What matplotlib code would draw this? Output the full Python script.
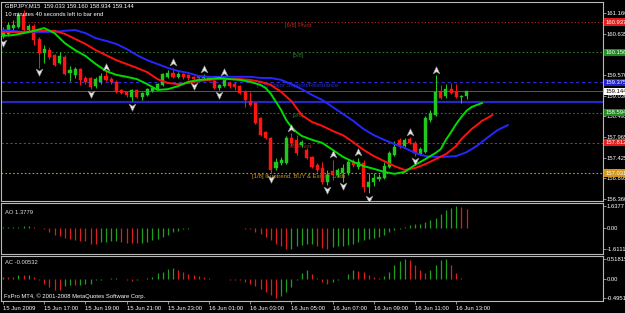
import matplotlib
matplotlib.use('Agg')
import matplotlib.pyplot as plt
from matplotlib.path import Path
import numpy as np

plt.rcParams['font.family'] = ['Liberation Sans', 'DejaVu Sans']

# ---- GBPJPY M15 candles (bar 0 = 15 Jun 15:00) ----
opens = [160.58, 160.63, 160.78, 160.81, 161.12, 160.73, 160.83, 160.50, 160.14, 160.21,
         160.08, 159.88, 160.03, 159.62, 159.57, 159.72, 159.49, 159.49, 159.28, 159.39,
         159.54, 159.46, 159.39, 159.18, 159.13, 159.00, 159.18, 159.00, 159.05, 159.15,
         159.20, 159.31, 159.52, 159.62, 159.52, 159.59, 159.57, 159.52, 159.54, 159.49,
         159.52, 159.41, 159.23, 159.28, 159.36, 159.33, 159.28, 159.13, 158.89, 158.84,
         158.45, 158.09, 157.94, 157.16, 157.29, 157.29, 157.94, 157.89, 157.76, 157.63,
         157.45, 157.24, 157.16, 156.80, 157.08, 156.98, 157.03, 157.03, 157.32, 157.19,
         157.29, 156.67, 156.80, 156.88, 156.90, 157.19, 157.50, 157.89, 157.73, 157.91,
         157.81, 157.52, 157.57, 158.40, 158.53, 159.15, 159.02, 159.20, 159.13, 159.00,
         159.033]
highs = [160.81, 160.94, 160.99, 161.17, 161.25, 160.89, 160.89, 160.55, 160.34, 160.29,
         160.11, 160.16, 160.08, 159.80, 159.77, 159.75, 159.54, 159.52, 159.52, 159.62,
         159.67, 159.52, 159.44, 159.20, 159.15, 159.20, 159.20, 159.13, 159.23, 159.28,
         159.36, 159.62, 159.70, 159.75, 159.64, 159.62, 159.59, 159.54, 159.57, 159.59,
         159.54, 159.44, 159.33, 159.52, 159.41, 159.39, 159.31, 159.18, 159.13, 158.87,
         158.48, 158.12, 157.96, 157.42, 157.45, 157.99, 158.07, 158.02, 157.89, 157.68,
         157.47, 157.29, 157.32, 157.11, 157.37, 157.16, 157.26, 157.37, 157.40, 157.42,
         157.37, 157.03, 157.03, 157.01, 157.32, 157.60, 157.86, 157.94, 157.94, 157.96,
         157.86, 157.70, 158.51, 158.66, 159.57, 159.31, 159.33, 159.36, 159.33, 159.05,
         159.160]
lows = [160.52, 160.58, 160.68, 160.78, 160.68, 160.68, 160.34, 159.75, 159.88, 159.98,
        159.80, 159.85, 159.57, 159.41, 159.49, 159.31, 159.33, 159.20, 159.23, 159.33,
        159.41, 159.33, 159.10, 159.08, 159.00, 158.89, 158.97, 158.92, 159.02, 159.13,
        159.18, 159.28, 159.49, 159.49, 159.49, 159.46, 159.44, 159.39, 159.44, 159.46,
        159.41, 159.20, 159.18, 159.26, 159.23, 159.18, 159.08, 158.74, 158.77, 158.30,
        157.99, 157.91, 157.03, 157.11, 157.24, 157.26, 157.73, 157.50, 157.70, 157.39,
        157.16, 157.06, 156.75, 156.72, 156.85, 156.93, 156.80, 156.98, 157.19, 157.14,
        156.54, 156.51, 156.69, 156.82, 156.88, 157.16, 157.47, 157.68, 157.70, 157.78,
        157.47, 157.50, 157.55, 158.35, 158.51, 158.95, 158.97, 159.08, 158.97, 158.84,
        158.934]
closes = [160.73, 160.86, 160.86, 161.12, 160.73, 160.83, 160.47, 160.14, 160.24, 160.03,
          159.83, 160.06, 159.59, 159.70, 159.72, 159.44, 159.39, 159.26, 159.46, 159.54,
          159.44, 159.39, 159.13, 159.10, 159.05, 159.18, 159.00, 159.10, 159.20, 159.23,
          159.33, 159.59, 159.62, 159.52, 159.59, 159.52, 159.49, 159.46, 159.49, 159.54,
          159.44, 159.23, 159.31, 159.44, 159.28, 159.26, 159.10, 158.92, 158.79, 158.33,
          158.01, 157.94, 157.11, 157.32, 157.37, 157.94, 157.81, 157.55, 157.83, 157.42,
          157.19, 157.11, 156.80, 156.98, 156.98, 157.11, 157.16, 157.32, 157.24, 157.32,
          156.67, 156.80, 156.90, 156.93, 157.21, 157.55, 157.70, 157.73, 157.89, 157.81,
          157.55, 157.65, 158.45, 158.58, 159.13, 158.97, 159.20, 159.10, 159.00, 159.02,
          159.144]

# ---- Alligator lines (shifted forward past the last bar) ----
lips_idx = [0, 2, 4, 6, 8, 10, 12, 14, 16, 18, 20, 22, 24, 26, 28, 30, 32, 34, 36, 38,
            40, 42, 44, 46, 48, 50, 51, 52, 53, 54, 55, 56, 57, 58, 60, 62, 64, 66, 68,
            70, 72, 74, 76, 78, 80, 82, 84, 85, 86, 87, 88, 89, 90, 91, 92, 93]
lips_val = [160.58, 160.60, 160.65, 160.71, 160.78, 160.65, 160.39, 160.21, 160.06, 159.85,
            159.67, 159.57, 159.52, 159.46, 159.33, 159.18, 159.20, 159.28, 159.39, 159.44,
            159.46, 159.49, 159.46, 159.44, 159.39, 159.31, 159.23, 159.08, 158.87, 158.66,
            158.40, 158.22, 158.09, 157.99, 157.89, 157.81, 157.63, 157.45, 157.32, 157.21,
            157.14, 157.06, 157.01, 157.06, 157.24, 157.39, 157.55, 157.65, 157.89, 158.09,
            158.30, 158.48, 158.64, 158.74, 158.79, 158.84]
teeth_idx = [0, 4, 8, 10, 12, 14, 16, 18, 20, 22, 24, 26, 28, 30, 32, 34, 36, 38, 40, 42,
             44, 46, 48, 50, 52, 54, 56, 57, 58, 60, 62, 64, 66, 68, 70, 72, 74, 76, 78,
             80, 82, 84, 86, 88, 89, 90, 91, 92, 93, 94, 95]
teeth_val = [160.68, 160.68, 160.71, 160.71, 160.63, 160.50, 160.37, 160.21, 160.08, 159.95,
             159.85, 159.75, 159.64, 159.46, 159.36, 159.33, 159.36, 159.41, 159.44, 159.46,
             159.46, 159.46, 159.44, 159.39, 159.31, 159.13, 158.89, 158.71, 158.53, 158.35,
             158.25, 158.12, 158.01, 157.83, 157.63, 157.47, 157.34, 157.21, 157.11, 157.16,
             157.26, 157.39, 157.52, 157.73, 157.91, 158.04, 158.17, 158.27, 158.38, 158.45,
             158.53]
jaw_idx = [0, 4, 8, 10, 12, 14, 16, 18, 20, 22, 24, 26, 28, 30, 32, 34, 36, 38, 40, 42,
           44, 46, 48, 50, 52, 54, 56, 58, 60, 62, 64, 66, 68, 70, 72, 74, 76, 78, 80, 82,
           84, 86, 88, 90, 92, 94, 96, 98]
jaw_val = [160.73, 160.68, 160.68, 160.68, 160.71, 160.73, 160.65, 160.52, 160.45, 160.37,
           160.24, 160.08, 159.95, 159.85, 159.75, 159.67, 159.62, 159.54, 159.52, 159.52,
           159.52, 159.52, 159.52, 159.49, 159.49, 159.44, 159.33, 159.20, 159.05, 158.92,
           158.74, 158.56, 158.38, 158.17, 158.01, 157.89, 157.78, 157.68, 157.55, 157.47,
           157.45, 157.45, 157.47, 157.57, 157.73, 157.94, 158.14, 158.27]

# ---- fractals ----
frac_up_idx = [20, 33, 39, 43, 56, 64, 69, 79, 84]
frac_up_val = [159.77, 159.90, 159.72, 159.64, 158.20, 157.52, 157.57, 158.09, 159.70]
frac_dn_idx = [0, 7, 17, 25, 37, 42, 52, 63, 66, 71, 80]
frac_dn_val = [160.39, 159.64, 159.08, 158.74, 159.28, 159.05, 156.88, 156.59, 156.69, 156.36, 157.34]

# ---- Murrey math levels ----
murrey_levels = [160.9375, 160.15625, 159.375, 158.59375, 157.8125, 157.03125]
murrey_names = ['[6/8] Pivot', '[5/8]', '[4/8] Major Support/Resistance', '[3/8]',
                '[2/8] Pivot', '[1/8] If uptrend, BUY & Exit @ 1/8th']
murrey_tags = ['160.937', '160.156', '159.375', '158.594', '157.812', '157.031']
support_line = 158.875

# ---- oscillators ----
ao = [0.02, 0.03, 0.04, 0.06, 0.10, 0.12, 0.05, -0.03, -0.09, -0.30,
      -0.55, -0.61, -0.76, -0.85, -0.91, -1.00, -1.03, -1.21, -1.24, -1.09,
      -1.06, -1.03, -1.00, -1.09, -1.15, -1.18, -1.19, -1.15, -1.06, -0.91,
      -0.82, -0.67, -0.55, -0.36, -0.24, -0.12, -0.09, -0.06, -0.03, -0.01,
      0.01, 0.00, -0.01, -0.02, -0.03, -0.04, -0.05, -0.07, -0.12, -0.30,
      -0.45, -0.70, -0.91, -1.21, -1.36, -1.6111, -1.58, -1.40, -1.33, -1.25,
      -1.22, -1.35, -1.50, -1.58, -1.48, -1.42, -1.38, -1.30, -1.21, -1.06,
      -0.95, -0.85, -0.76, -0.67, -0.55, -0.36, -0.21, -0.09, 0.02, 0.19,
      0.28, 0.30, 0.42, 0.58, 0.74, 1.05, 1.35, 1.51, 1.6377, 1.56,
      1.3779]
ac = [0.06, 0.05, 0.04, 0.10, 0.10, 0.11, 0.06, -0.03, -0.12, -0.20,
      -0.29, -0.30, -0.19, -0.16, -0.16, -0.15, -0.14, -0.12, -0.04, -0.03,
      -0.01, 0.02, 0.03, 0.01, -0.04, -0.05, -0.03, -0.01, 0.02, 0.06,
      0.15, 0.19, 0.26, 0.28, 0.22, 0.17, 0.13, 0.11, 0.08, 0.06,
      0.03, 0.00, -0.01, -0.01, -0.02, -0.02, -0.03, -0.07, -0.12, -0.18,
      -0.25, -0.34, -0.42, -0.49514, -0.45, -0.34, -0.22, -0.02, 0.15, 0.22,
      0.13, 0.02, -0.07, -0.12, -0.07, -0.03, 0.01, 0.13, 0.22, 0.20,
      0.17, 0.11, 0.04, 0.03, 0.08, 0.18, 0.37, 0.46, 0.51815, 0.49,
      0.37, 0.22, 0.15, 0.24, 0.37, 0.50, 0.51, 0.37, 0.15, 0.02,
      -0.00532]

price_ticks = [161.160, 160.635, 160.100, 159.570, 159.030, 158.495, 157.965, 157.425, 156.895, 156.360]
time_ticks = [0, 8, 16, 24, 32, 40, 48, 56, 64, 72, 80, 88]
time_labels = ['15 Jun 2009', '15 Jun 17:00', '15 Jun 19:00', '15 Jun 21:00', '15 Jun 23:00',
               '16 Jun 01:00', '16 Jun 03:00', '16 Jun 05:00', '16 Jun 07:00', '16 Jun 09:00',
               '16 Jun 11:00', '16 Jun 13:00']

W, H = 625, 313
FS = 4.2
fig = plt.figure(figsize=(W / 100, H / 100), dpi=100, facecolor='black')


def panel(x0, y0, x1, y1):
    ax = fig.add_axes([x0 / W, 1 - y1 / H, (x1 - x0) / W, (y1 - y0) / H])
    ax.set_facecolor('black')
    for s in ax.spines.values():
        s.set_color('#b8b8b8')
        s.set_linewidth(0.8)
    ax.set_xlim(-0.39, 116.5)
    ax.yaxis.tick_right()
    ax.tick_params(axis='y', colors='#c8c8c8', labelcolor='white', labelsize=FS,
                   length=2, width=0.5, pad=0.6)
    return ax


main = panel(1, 2, 603, 201)
ao_ax = panel(1, 203, 603, 254)
ac_ax = panel(1, 256, 603, 301)

# ---- main chart ----
o, h, l, c = map(np.array, (opens, highs, lows, closes))
idx = np.arange(len(c))
bull = c >= o
cols = np.where(bull, '#20c820', '#ff1414')
main.vlines(idx, l, h, colors=cols, lw=0.75, zorder=3)
main.bar(idx, np.maximum(np.abs(c - o), 0.012), bottom=np.minimum(o, c), width=0.6,
         color=cols, edgecolor=cols, lw=0.3, zorder=3)

main.plot(jaw_idx, jaw_val, color='#2626ff', lw=1.4, zorder=4)
main.plot(teeth_idx, teeth_val, color='#ff1010', lw=1.4, zorder=4)
main.plot(lips_idx, lips_val, color='#00dc00', lw=1.4, zorder=4)

up_arrow = Path([(0, 1), (0.9, -0.9), (0, -0.35), (-0.9, -0.9), (0, 1)],
                [Path.MOVETO, Path.LINETO, Path.LINETO, Path.LINETO, Path.CLOSEPOLY])
dn_arrow = Path([(0, -1), (0.9, 0.9), (0, 0.35), (-0.9, 0.9), (0, -1)],
                [Path.MOVETO, Path.LINETO, Path.LINETO, Path.LINETO, Path.CLOSEPOLY])
main.plot(frac_up_idx, frac_up_val, ls='none', marker=up_arrow, ms=5.5, mfc='#e8e8e8',
          mec='#909090', mew=0.4, zorder=5)
main.plot(frac_dn_idx, frac_dn_val, ls='none', marker=dn_arrow, ms=5.5, mfc='#e8e8e8',
          mec='#909090', mew=0.4, zorder=5)

line_cols = ['#b42a20', '#2a7a2a', '#2a2ad2', '#2a7a2a', '#b42a20', '#c8961e']
line_styles = [(0, (1, 2)), (0, (1.5, 2)), (0, (3, 2.5)), (0, (1.5, 2)), (0, (2, 2)), (0, (1.5, 2))]
tag_bg = ['#e01e1e', '#1e8c1e', '#2020d0', '#1e8c1e', '#e01e1e', '#d2961e']
for lev, name, col, ls, tag, bg in zip(murrey_levels, murrey_names, line_cols, line_styles,
                                        murrey_tags, tag_bg):
    main.axhline(lev, color=col, ls=ls, lw=0.8, zorder=1)
    main.text(57.3, lev - 0.02, name, color=col, fontsize=FS, ha='center', va='top', zorder=1)
    main.text(1.004, lev, tag, transform=main.get_yaxis_transform(), color='white',
              fontsize=FS, va='center', ha='left', clip_on=False, zorder=6,
              bbox=dict(boxstyle='square,pad=0.2', fc=bg, ec='none'))

main.axhline(support_line, color='#2828c0', lw=1.6, zorder=2)
main.axhline(closes[-1], color='#5a5a5a', lw=0.7, zorder=2)
main.text(1.004, closes[-1], '%.3f' % closes[-1], transform=main.get_yaxis_transform(),
          color='black', fontsize=FS, va='center', ha='left', clip_on=False, zorder=6,
          bbox=dict(boxstyle='square,pad=0.2', fc='white', ec='none'))

main.set_ylim(156.307, 161.455)
main.set_yticks(price_ticks)
main.set_yticklabels(['%.3f' % t for t in price_ticks])
main.set_xticks([])

# ---- AO ----
ao_cols = ['#1ea01e' if i == 0 or ao[i] > ao[i - 1] else '#dc1e1e' for i in range(len(ao))]
ao_ax.vlines(idx, 0, ao, colors=ao_cols, lw=0.9)
ao_ax.set_ylim(-1.99, 1.864)
ao_ax.set_yticks([max(ao), 0, min(ao)])
ao_ax.set_yticklabels(['1.6377', '0.00', '-1.6111'])
ao_ax.set_xticks([])

# ---- AC ----
ac_cols = ['#1ea01e' if i == 0 or ac[i] > ac[i - 1] else '#dc1e1e' for i in range(len(ac))]
ac_ax.vlines(idx, 0, ac, colors=ac_cols, lw=0.9)
ac_ax.set_ylim(-0.573, 0.596)
ac_ax.set_yticks([max(ac), 0, min(ac)])
ac_ax.set_yticklabels(['0.51815', '0.00', '-0.49514'])
ac_ax.set_xticks(time_ticks)
ac_ax.set_xticklabels(time_labels)
ac_ax.tick_params(axis='x', colors='#c8c8c8', labelcolor='white', labelsize=FS,
                  length=2.5, width=0.5, pad=1)
for lab in ac_ax.get_xticklabels():
    lab.set_ha('left')

# ---- header texts ----
fig.text(5 / W, 1 - 6 / H, 'GBPJPY,M15  159.033 159.160 158.934 159.144', color='white',
         fontsize=FS, va='center')
fig.text(5 / W, 1 - 14 / H, '10 minutes 40 seconds left to bar end', color='white',
         fontsize=FS, va='center')
fig.text(5 / W, 1 - 212 / H, 'AO 1.3779', color='#e0e0e0', fontsize=FS, va='center')
fig.text(5 / W, 1 - 263 / H, 'AC -0.00532', color='#e0e0e0', fontsize=FS, va='center')
fig.text(4 / W, 1 - 296 / H, 'FxPro MT4, \u00a9 2001-2008 MetaQuotes Software Corp.',
         color='white', fontsize=FS, va='center')

fig.savefig('out.png', dpi=100, facecolor='black')
